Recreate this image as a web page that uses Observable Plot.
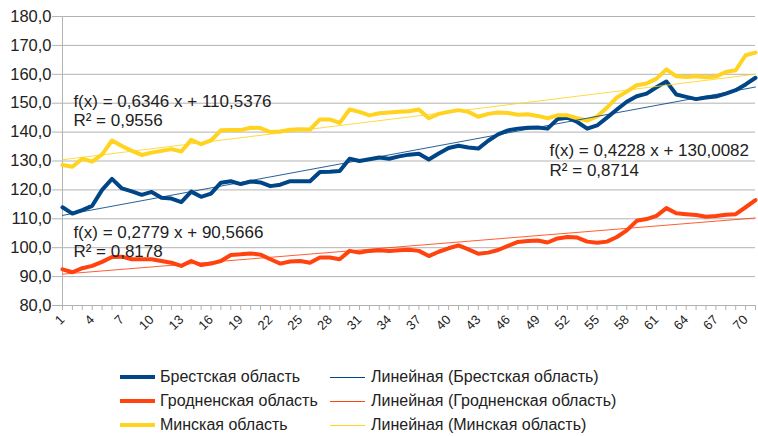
<!DOCTYPE html>
<html><head><meta charset="utf-8">
<script src="https://cdn.jsdelivr.net/npm/d3@7"></script>
<script src="https://cdn.jsdelivr.net/npm/@observablehq/plot@0.6"></script>
<style>
body{margin:0;background:#fff;font-family:"Liberation Sans",Arial,sans-serif;}
#wrap{position:relative;width:758px;height:436px;}
.leg{position:absolute;font-size:16px;color:#222;white-space:nowrap;line-height:18px;}
.sw{position:absolute;}
</style></head><body><div id="wrap"></div>
<script>
const categories = d3.range(1, 72);
const brest = [114,111.8,113,114.5,120,123.8,120.5,119.5,118.3,119.3,117.3,117,115.8,119.4,117.6,118.7,122.5,123,122,122.9,122.6,121.3,121.8,123,123,123,126.2,126.3,126.5,130.8,130,130.6,131.2,130.8,131.6,132.2,132.5,130.5,132.6,134.5,135.3,134.7,134.3,137,139.2,140.6,141.2,141.5,141.6,141.2,144.5,145,143.5,141.2,142.3,145,147.8,150.5,152.4,153.3,155.5,157.5,153,152.2,151.4,152,152.3,153.3,154.5,156.5,158.8];
const grodno = [92.5,91.5,92.9,93.7,95.1,96.8,96.9,96,96,96,95.4,94.8,93.7,95.4,94,94.5,95.4,97.5,97.7,98,97.6,96,94.5,95.2,95.4,94.8,96.6,96.6,96,98.9,98.3,98.9,99.1,98.9,99.1,99.3,98.9,97.1,98.6,99.8,100.8,99.4,97.9,98.3,99.2,100.6,102,102.3,102.5,101.8,103.2,103.7,103.5,102.1,101.7,102.1,103.7,106,109.3,109.9,111,113.7,111.9,111.6,111.3,110.7,111,111.4,111.6,114,116.5];
const minsk = [128.6,128,130.8,129.8,132.3,137.1,135.2,133.5,132.1,132.9,133.5,134.1,133.3,137.3,135.8,137.1,140.6,140.7,140.7,141.5,141.4,140,140.2,140.8,141,140.9,144.4,144.4,143.2,147.8,147,145.8,146.5,146.8,147,147.2,147.8,144.8,146.3,147,147.6,147,145.3,146.3,146.8,146.6,146,146.2,145.6,144.8,145.8,145.8,144.8,144,145.4,148.5,152,154,156.2,156.8,158.5,161.7,159.3,159.1,159.3,159,159.2,160.8,161.4,166.6,167.5];
const seriesNames = ["Брестская область", "Гродненская область", "Минская область"];
const seriesValues = [brest, grodno, minsk];
const slopes = [0.6346, 0.2779, 0.4228];
const intercepts = [110.5376, 90.5666, 130.0082];
const r2 = [0.9556, 0.8178, 0.8714];
const yTicks = d3.range(80, 181, 10);

const colors = ["#004586", "#ff420e", "#ffd320"];
// equation label anchors (data units)
const eqAnchors = [{x: 2.1, y1: 150.5, y2: 143.9}, {x: 2.1, y1: 105.4, y2: 98.5}, {x: 50.2, y1: 133.6, y2: 126.7}];

const fmt = v => String(v).replace(".", ",");
const rows = [];
seriesValues.forEach((vals, s) => vals.forEach((v, i) => rows.push({s, x: categories[i], y: v})));
const trend = [];
seriesValues.forEach((vals, s) => {
  const x0 = categories[0], x1 = categories[categories.length - 1];
  trend.push({s, x: x0, y: slopes[s] * x0 + intercepts[s]}, {s, x: x1, y: slopes[s] * x1 + intercepts[s]});
});
const eqText = [];
eqAnchors.forEach((a, s) => {
  eqText.push({x: a.x, y: a.y1, t: `f(x) = ${fmt(slopes[s])} x + ${fmt(intercepts[s])}`});
  eqText.push({x: a.x, y: a.y2, t: `R² = ${fmt(r2[s])}`});
});

const chart = Plot.plot({
  width: 758, height: 355,
  marginLeft: 62, marginRight: 3, marginTop: 16, marginBottom: 50,
  style: {fontFamily: "Liberation Sans, Arial, sans-serif", background: "#fff", color: "#222"},
  x: {type: "linear", domain: [1, 71]},
  y: {domain: [80, 180]},
  marks: [
    Plot.gridY(yTicks, {stroke: "#b3b3b3", strokeOpacity: 1}),
    Plot.ruleX([1], {stroke: "#b3b3b3"}),
    Plot.axisY(yTicks, {tickSize: 10, tickPadding: 1, stroke: "#b3b3b3", fill: "#222", fontSize: 16.5, tickFormat: d => d.toFixed(1).replace(".", ","), label: null}),
    Plot.axisX(categories, {tickSize: 5, tickRotate: -45, stroke: "#b3b3b3", fill: "#222", fontSize: 13, tickPadding: 7, tickFormat: d => (d - 1) % 3 === 0 ? String(d) : "", label: null}),
    Plot.line(rows, {x: "x", y: "y", z: "s", stroke: d => colors[d.s], strokeWidth: 4, strokeLinejoin: "round", strokeLinecap: "round"}),
    Plot.line(trend, {x: "x", y: "y", z: "s", stroke: d => colors[d.s], strokeWidth: 1, strokeOpacity: 0.85}),
    Plot.text(eqText, {x: "x", y: "y", text: "t", textAnchor: "start", fontSize: 17, fill: "#222"})
  ]
});
const wrap = document.getElementById("wrap");
wrap.appendChild(chart);

const legendRows = [377, 401, 425];
seriesNames.forEach((name, s) => {
  const cy = legendRows[s];
  const sw1 = document.createElement("div");
  sw1.className = "sw";
  Object.assign(sw1.style, {left: "120px", top: (cy - 2) + "px", width: "35px", height: "4px", background: colors[s]});
  wrap.appendChild(sw1);
  const t1 = document.createElement("div");
  t1.className = "leg"; t1.textContent = name;
  Object.assign(t1.style, {left: "160px", top: (cy - 9) + "px"});
  wrap.appendChild(t1);
  const sw2 = document.createElement("div");
  sw2.className = "sw";
  Object.assign(sw2.style, {left: "330px", top: (cy - 0.5) + "px", width: "35px", height: "1px", background: colors[s]});
  wrap.appendChild(sw2);
  const t2 = document.createElement("div");
  t2.className = "leg"; t2.textContent = `Линейная (${name})`;
  Object.assign(t2.style, {left: "371px", top: (cy - 9) + "px"});
  wrap.appendChild(t2);
});
</script></body></html>
